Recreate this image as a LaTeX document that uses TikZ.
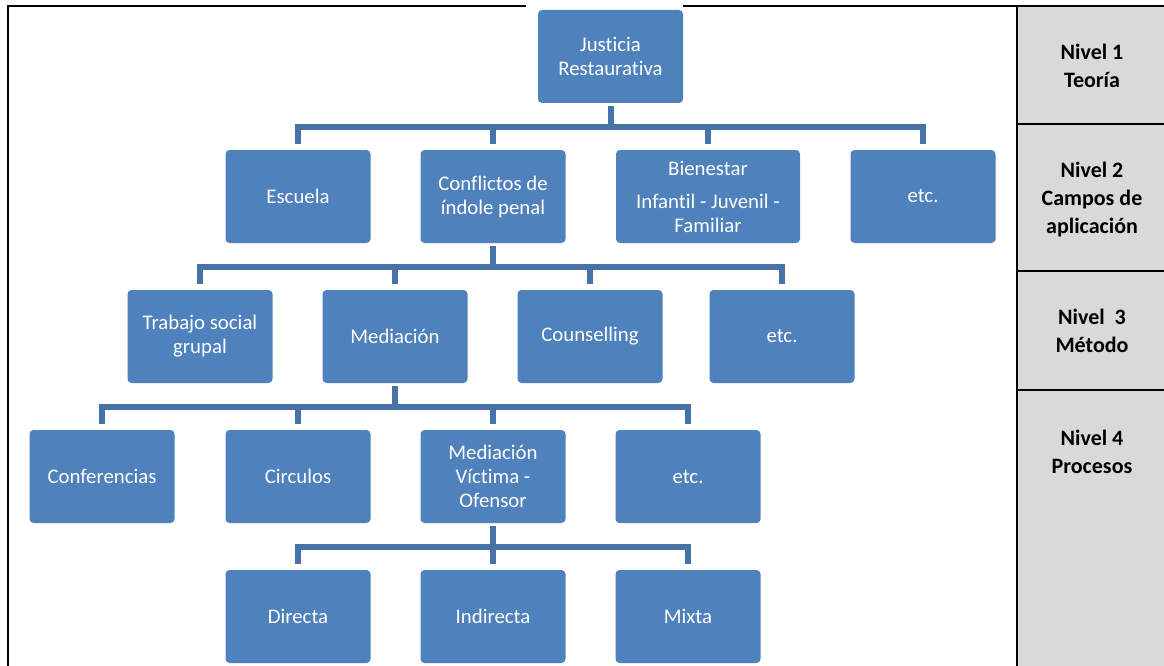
\documentclass[tikz,border=0pt]{standalone}
\usepackage{fontspec}
\setmainfont[Ligatures=NoCommon]{Carlito}
\definecolor{boxblue}{HTML}{4F81BD}
\definecolor{connblue}{HTML}{4672A8}
\definecolor{panelgray}{HTML}{D9D9D9}
\begin{document}
\begin{tikzpicture}[x=1pt,y=-1pt,
 blk/.style={rectangle,rounded corners=4pt,fill=boxblue,text=white,minimum width=145pt,minimum height=93pt,inner sep=2pt,align=center,font=\fontsize{20.8}{24}\selectfont},
 conn/.style={draw=connblue,line width=6pt},
 lvl/.style={font=\fontsize{22}{28}\selectfont\bfseries,align=center},
 frame/.style={draw=black,line width=2pt}
]
\useasboundingbox (0,0) rectangle (1164,666);
% right panel
\fill[panelgray] (1017,6) rectangle (1164,666);
\draw[frame] (8,666) -- (8,6) -- (1164,6);
\draw[frame] (1017,6) -- (1017,666);
\draw[frame] (1017,124) -- (1164,124);
\draw[frame] (1017,271) -- (1164,271);
\draw[frame] (1017,390) -- (1164,390);
\fill[white] (526,0) rectangle (683,9);
\node[lvl] (n1) at (1092,66) {Nivel 1\\Teoría};
\node[lvl] (n2) at (1092,200) {Nivel 2\\Campos de\\aplicación};
\node[lvl] (n3) at (1092,331) {Nivel~ 3\\Método};
\node[lvl] (n4) at (1092,452) {Nivel 4\\Procesos};
% boxes
\node[blk] (jr) at (610.5,56.5) {Justicia\\Restaurativa};
\node[blk] (esc) at (298,196.5) {Escuela};
\node[blk] (con) at (493,196.5) {Conflictos de\\índole penal};
\node[blk,minimum width=184pt] (bie) at (708,196.5) {Bienestar\\[9pt]Infantil - Juvenil -\\Familiar};
\node[blk] (etcA) at (923,196.5) {etc.};
\node[blk] (tra) at (200,336.5) {Trabajo social\\grupal};
\node[blk] (med) at (395,336.5) {Mediación};
\node[blk] (cou) at (590,336.5) {Counselling};
\node[blk] (etcB) at (782,336.5) {etc.};
\node[blk] (cnf) at (102,476.5) {Conferencias};
\node[blk] (cir) at (298,476.5) {Circulos};
\node[blk] (mvo) at (493,476.5) {Mediación\\Víctima -\\Ofensor};
\node[blk] (etcC) at (688,476.5) {etc.};
\node[blk] (dir) at (298,616.5) {Directa};
\node[blk] (ind) at (493,616.5) {Indirecta};
\node[blk] (mix) at (688,616.5) {Mixta};
% bus coordinates
\coordinate (b1) at (0,127);
\coordinate (b2) at (0,267);
\coordinate (b3) at (0,407);
\coordinate (b4) at (0,547);
% level 1 -> 2
\draw[conn,shorten <=3pt] (jr.south) -- (jr.south|-b1);
\draw[conn] ([yshift=6pt]esc.north) -- (esc.north|-b1) -- (etcA.north|-b1) -- ([yshift=6pt]etcA.north);
\draw[conn,shorten <=6pt] (con.north) -- (con.north|-b1);
\draw[conn,shorten <=6pt] (bie.north) -- (bie.north|-b1);
% level 2 -> 3
\draw[conn,shorten <=3pt] (con.south) -- (con.south|-b2);
\draw[conn] ([yshift=6pt]tra.north) -- (tra.north|-b2) -- (etcB.north|-b2) -- ([yshift=6pt]etcB.north);
\draw[conn,shorten <=6pt] (med.north) -- (med.north|-b2);
\draw[conn,shorten <=6pt] (cou.north) -- (cou.north|-b2);
% level 3 -> 4
\draw[conn,shorten <=3pt] (med.south) -- (med.south|-b3);
\draw[conn] ([yshift=6pt]cnf.north) -- (cnf.north|-b3) -- (etcC.north|-b3) -- ([yshift=6pt]etcC.north);
\draw[conn,shorten <=6pt] (cir.north) -- (cir.north|-b3);
\draw[conn,shorten <=6pt] (mvo.north) -- (mvo.north|-b3);
% level 4 -> 5
\draw[conn,shorten <=3pt] (mvo.south) -- (mvo.south|-b4);
\draw[conn] ([yshift=6pt]dir.north) -- (dir.north|-b4) -- (mix.north|-b4) -- ([yshift=6pt]mix.north);
\draw[conn,shorten <=6pt] (ind.north) -- (ind.north|-b4);
\end{tikzpicture}
\end{document}
